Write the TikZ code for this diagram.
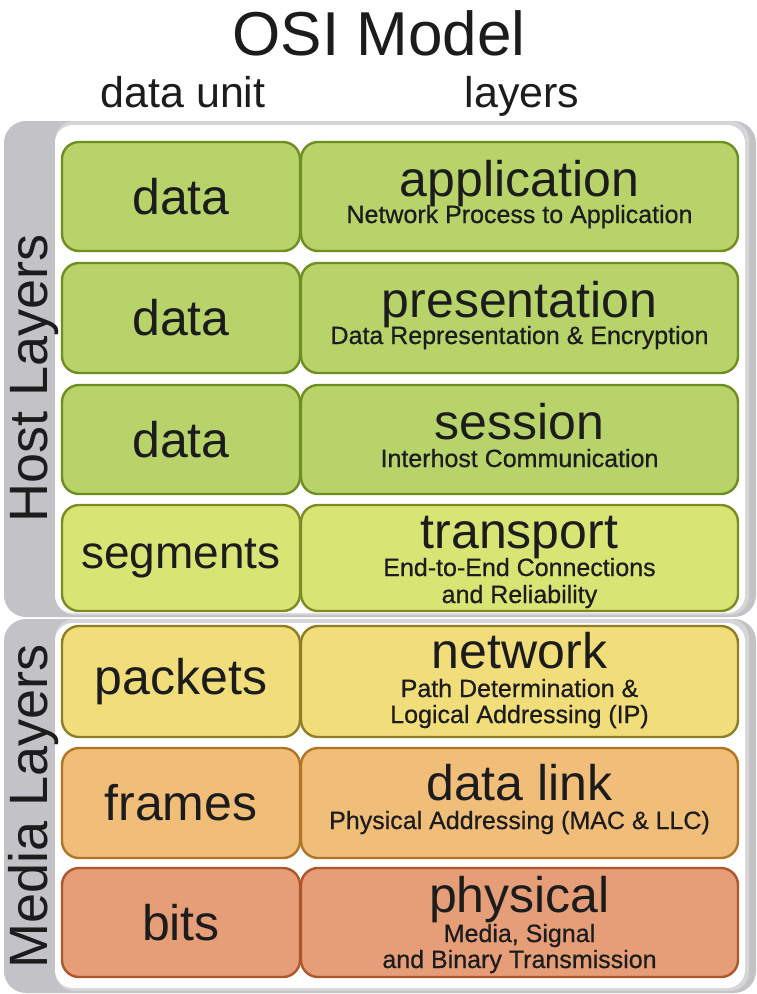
\documentclass[tikz,border=0pt]{standalone}
\usepackage{fontspec}
\setmainfont{Liberation Sans}
\newfontfamily\subfont[FakeBold=0.6]{Liberation Sans}
\definecolor{band}{HTML}{C2C2C7}
\definecolor{edge}{HTML}{D6D6D9}
\definecolor{txt}{HTML}{1C1C1C}
\definecolor{gfill}{HTML}{B7D36A}
\definecolor{gdraw}{HTML}{6F8E22}
\definecolor{tfill}{HTML}{D8E474}
\definecolor{tdraw}{HTML}{7E8A24}
\definecolor{nfill}{HTML}{F1DD7A}
\definecolor{ndraw}{HTML}{8E7E26}
\definecolor{dfill}{HTML}{F1BE7A}
\definecolor{ddraw}{HTML}{B07424}
\definecolor{pfill}{HTML}{E69E78}
\definecolor{pdraw}{HTML}{B0552A}
\begin{document}
\begin{tikzpicture}[x=1pt,y=-1pt,
  every node/.style={text=txt, inner sep=0pt, outer sep=0pt},
  cellL/.style={draw, line width=2.4pt, rounded corners=17pt, minimum width=238pt, anchor=north west},
  cellR/.style={draw, line width=2.4pt, rounded corners=17pt, minimum width=437pt, anchor=north west},
  unit/.style={font=\fontsize{50}{50}\selectfont},
  ttl/.style={font=\fontsize{50}{50}\selectfont, anchor=base},
  sub/.style={font=\subfont\fontsize{25}{25}\selectfont, anchor=base},
  green/.style={fill=gfill, draw=gdraw},
  trans/.style={fill=tfill, draw=tdraw},
  netw/.style={fill=nfill, draw=ndraw},
  dlink/.style={fill=dfill, draw=ddraw},
  phys/.style={fill=pfill, draw=pdraw},
  side/.style={font=\fontsize{54}{54}\selectfont, rotate=90}
]
\useasboundingbox (0,0) rectangle (757,994);
% panels
\fill[band, rounded corners=22pt] (4,121) rectangle (756,617);
\fill[edge, rounded corners=19pt] (55,121) rectangle (749,615);
\fill[white, rounded corners=18pt] (55,125) rectangle (745,613);
\fill[band, rounded corners=22pt] (4,619) rectangle (756,993);
\fill[edge, rounded corners=19pt] (55,619) rectangle (749,991);
\fill[white, rounded corners=18pt] (55,623) rectangle (745,988);
% headings
\node[font=\fontsize{62}{62}\selectfont, anchor=base] (title) at (379,55) {OSI Model};
\node[font=\fontsize{43}{43}\selectfont, anchor=base] (hunit) at (183,107) {data unit};
\node[font=\fontsize{43}{43}\selectfont, anchor=base] (hlay) at (522,107) {layers};
% side labels
\node[side, anchor=base] (host) at (47,378) {Host Layers};
\node[side, anchor=base] (media) at (47,806) {Media Layers};
% row 1
\node[cellL, green, minimum height=109pt] (u1) at (62,142) {};
\node[cellR, green, minimum height=109pt] (l1) at (301,142) {};
\node[unit] at (u1.center) {data};
\node[ttl] (t1) at ([yshift=-54pt]l1.north) {application};
\node[sub] (s1) at ([yshift=-81pt]l1.north) {Network Process to Application};
% row 2
\node[cellL, green, minimum height=110pt] (u2) at (62,263) {};
\node[cellR, green, minimum height=110pt] (l2) at (301,263) {};
\node[unit] at (u2.center) {data};
\node[ttl] (t2) at ([yshift=-54pt]l2.north) {presentation};
\node[sub] (s2) at ([yshift=-81pt]l2.north) {Data Representation \& Encryption};
% row 3
\node[cellL, green, minimum height=109pt] (u3) at (62,385) {};
\node[cellR, green, minimum height=109pt] (l3) at (301,385) {};
\node[unit] at (u3.center) {data};
\node[ttl] (t3) at ([yshift=-54pt]l3.north) {session};
\node[sub] (s3) at ([yshift=-82pt]l3.north) {Interhost Communication};
% row 4
\node[cellL, trans, minimum height=106pt] (u4) at (62,505) {};
\node[cellR, trans, minimum height=106pt] (l4) at (301,505) {};
\node[unit, font=\fontsize{46}{46}\selectfont] at (u4.center) {segments};
\node[ttl] (t4) at ([yshift=-43pt]l4.north) {transport};
\node[sub] (s4a) at ([yshift=-71pt]l4.north) {End-to-End Connections};
\node[sub] (s4b) at ([yshift=-98pt]l4.north) {and Reliability};
% row 5
\node[cellL, netw, minimum height=111pt] (u5) at (62,626) {};
\node[cellR, netw, minimum height=111pt] (l5) at (301,626) {};
\node[unit] at (u5.center) {packets};
\node[ttl] (t5) at ([yshift=-42pt]l5.north) {network};
\node[sub] (s5a) at ([yshift=-71pt]l5.north) {Path Determination \&};
\node[sub] (s5b) at ([yshift=-97pt]l5.north) {Logical Addressing (IP)};
% row 6
\node[cellL, dlink, minimum height=110pt] (u6) at (62,748) {};
\node[cellR, dlink, minimum height=110pt] (l6) at (301,748) {};
\node[unit] at (u6.center) {frames};
\node[ttl] (t6) at ([yshift=-52pt]l6.north) {data link};
\node[sub] (s6) at ([yshift=-81pt]l6.north) {Physical Addressing (MAC \& LLC)};
% row 7
\node[cellL, phys, minimum height=109pt] (u7) at (62,868) {};
\node[cellR, phys, minimum height=109pt] (l7) at (301,868) {};
\node[unit] at (u7.center) {bits};
\node[ttl] (t7) at ([yshift=-44pt]l7.north) {physical};
\node[sub] (s7a) at ([yshift=-74pt]l7.north) {Media, Signal};
\node[sub] (s7b) at ([yshift=-100pt]l7.north) {and Binary Transmission};
\end{tikzpicture}
\end{document}
